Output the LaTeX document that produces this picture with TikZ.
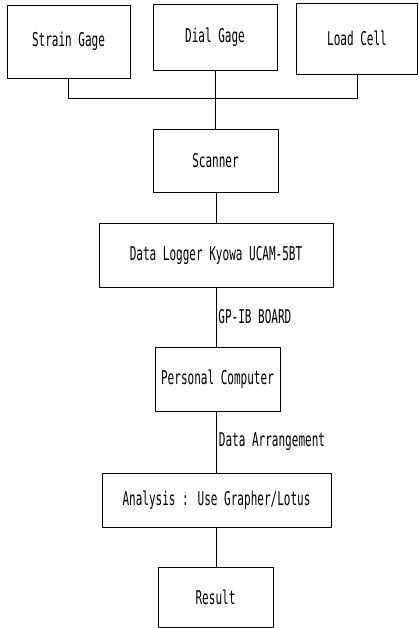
\documentclass[tikz,border=0pt]{standalone}
\usepackage{fontspec}
\newfontfamily\dotfont[FakeStretch=0.58]{DejaVu Sans Mono}
\usepackage{tikz}

\tikzset{
  unitbox/.style={draw, line width=0.8pt, inner sep=0pt, font=\dotfont\fontsize{19}{22}\selectfont},
  wire/.style={line width=0.8pt},
  wirelabel/.style={right, inner sep=2pt, font=\dotfont\fontsize{19}{22}\selectfont}
}

\begin{document}
\begin{tikzpicture}[x=1pt,y=1pt]
  \useasboundingbox (0,0) rectangle (419,-628);
  % sensors
  \node[unitbox, minimum width=123, minimum height=73] (strain) at (68.5,-41.5) {Strain Gage};
  \node[unitbox, minimum width=124, minimum height=66] (dial) at (215,-37) {Dial Gage};
  \node[unitbox, minimum width=121, minimum height=71] (load) at (357,-38.5) {Load Cell};
  % chain
  \node[unitbox, minimum width=125, minimum height=63] (scanner) at (215.5,-160.5) {Scanner};
  \node[unitbox, minimum width=234, minimum height=64] (logger) at (216,-255) {Data Logger Kyowa UCAM-5BT};
  \node[unitbox, minimum width=125, minimum height=64] (pc) at (217.5,-379) {Personal Computer};
  \node[unitbox, minimum width=229, minimum height=54] (analysis) at (216.5,-500) {Analysis : Use Grapher/Lotus};
  \node[unitbox, minimum width=115, minimum height=60] (result) at (215.5,-597) {Result};
  % connectors
  \draw[wire] (strain.south) -- ++(0,-20) -| (load.south);
  \draw[wire] (dial.south) -- (dial.south |- scanner.north);
  \draw[wire] (logger.north |- scanner.south) -- (logger.north);
  \draw[wire] (logger.south) -- node[wirelabel] {GP-IB BOARD} (logger.south |- pc.north);
  \draw[wire] (analysis.north |- pc.south) -- node[wirelabel] {Data Arrangement} (analysis.north);
  \draw[wire] (analysis.south) -- (analysis.south |- result.north);
\end{tikzpicture}
\end{document}
